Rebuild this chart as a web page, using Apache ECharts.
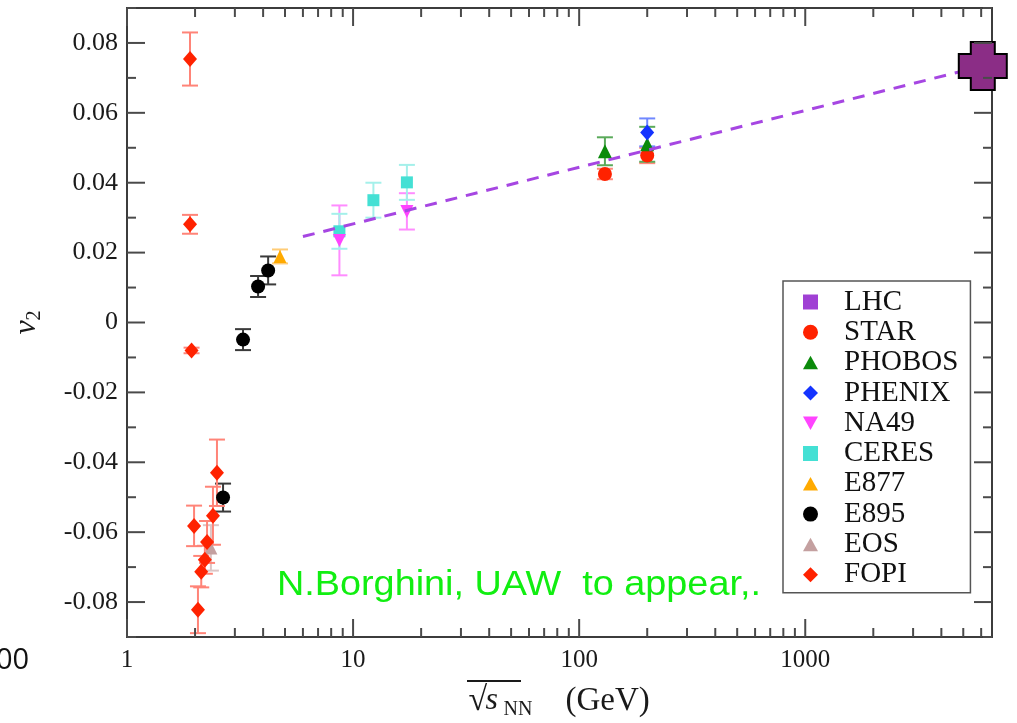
<!DOCTYPE html>
<html>
<head>
<meta charset="utf-8">
<script src="https://cdn.jsdelivr.net/npm/echarts@6/dist/echarts.min.js"></script>
<style>
  html, body { margin: 0; padding: 0; background: #ffffff; }
  #chart { width: 1017px; height: 723px; }
</style>
</head>
<body>
<div id="chart"></div>
<script>
// Elliptic flow v2 versus collision energy sqrt(s_NN)

// ---- data: x = sqrt(s_NN) [GeV], y = v2, err = error bar half-height ----
const lhcX = [6100];
const lhcY = [0.0734];

const starX = [130, 200];
const starY = [0.0425, 0.0478];
const starErr = [0.0015, 0.0022];

const phobosX = [130, 200];
const phobosY = [0.0490, 0.0510];
const phobosErr = [0.0040, 0.0050];

const phenixX = [200];
const phenixY = [0.0544];
const phenixErr = [0.0040];

const na49X = [8.7, 17.3];
const na49Y = [0.0235, 0.0318];
const na49Err = [0.0100, 0.0052];

const ceresX = [8.7, 12.3, 17.3];
const ceresY = [0.0261, 0.0350, 0.0401];
const ceresErr = [0.0050, 0.0050, 0.0050];

const e877X = [4.75];
const e877Y = [0.0189];
const e877Err = [0.0020];

const e895X = [2.66, 3.26, 3.80, 4.21];
const e895Y = [-0.0501, -0.0049, 0.0103, 0.0149];
const e895Err = [0.0040, 0.0030, 0.0030, 0.0040];

const eosX = [2.35];
const eosY = [-0.0645];
const eosErr = [0.0065];

const fopiX = [1.90, 1.90, 1.93, 2.50, 1.98, 2.40, 2.26, 2.21, 2.13, 2.06];
const fopiY = [0.0754, 0.0281, -0.0080, -0.0430, -0.0582, -0.0553, -0.0628, -0.0679, -0.0713, -0.0822];
const fopiErr = [0.0076, 0.0027, 0.0008, 0.0095, 0.0058, 0.0083, 0.0060, 0.0040, 0.0045, 0.0067];

// dashed trend line to the LHC point
const trendX = [6, 6100];
const trendY = [0.0246, 0.0734];

// ---- tick marks ----
const xMajorTicks = [1, 10, 100, 1000];
const xMinorTicks = [2, 3, 4, 5, 6, 7, 8, 9,
                     20, 30, 40, 50, 60, 70, 80, 90,
                     200, 300, 400, 500, 600, 700, 800, 900,
                     2000, 3000, 4000, 5000, 6000];
const yMajorTicks = [-0.08, -0.06, -0.04, -0.02, 0, 0.02, 0.04, 0.06, 0.08];
const yMinorTicks = [-0.09, -0.07, -0.05, -0.03, -0.01, 0.01, 0.03, 0.05, 0.07, 0.09];

// ---- styling ----
const SERIF = 'Liberation Serif, Times New Roman, serif';
const TICK_COLOR = '#4a4a4a';
const MAJOR_LEN = 18;
const MINOR_LEN = 9;

const ICON_SQUARE = 'path://M0,0 L10,0 L10,10 L0,10 Z';
const ICON_TRI = 'path://M5,0 L10,9 L0,9 Z';
const ICON_TRI_DOWN = 'path://M0,0 L10,0 L5,9 Z';
const ICON_DIAMOND = 'path://M5,0 L10,5 L5,10 L0,5 Z';
const CROSS = 'path://M1,0 L3,0 L3,1 L4,1 L4,3 L3,3 L3,4 L1,4 L1,3 L0,3 L0,1 L1,1 Z';

function zip(xs, ys, es) {
  return xs.map((x, i) => es ? [x, ys[i], es[i]] : [x, ys[i]]);
}

function errorBars(name, xs, ys, es, color) {
  return {
    type: 'custom',
    name: name + ' error',
    data: zip(xs, ys, es),
    encode: { x: 0, y: 1 },
    z: 1,
    silent: true,
    renderItem: function (params, api) {
      const x = api.value(0), y = api.value(1), e = api.value(2);
      const top = api.coord([x, y + e]);
      const bot = api.coord([x, y - e]);
      const hw = 8;
      const st = { stroke: color, lineWidth: 2 };
      return {
        type: 'group',
        children: [
          { type: 'line', shape: { x1: top[0], y1: top[1], x2: bot[0], y2: bot[1] }, style: st },
          { type: 'line', shape: { x1: top[0] - hw, y1: top[1], x2: top[0] + hw, y2: top[1] }, style: st },
          { type: 'line', shape: { x1: bot[0] - hw, y1: bot[1], x2: bot[0] + hw, y2: bot[1] }, style: st }
        ]
      };
    }
  };
}

function points(name, xs, ys, symbol, size, color, extra) {
  return Object.assign({
    type: 'scatter',
    name: name,
    data: zip(xs, ys),
    symbol: symbol,
    symbolSize: size,
    itemStyle: { color: color, opacity: 1 },
    z: 2
  }, extra || {});
}

function isMajorY(v) {
  return yMajorTicks.some(t => Math.abs(t - v) < 1e-6);
}

// inward tick marks on all four sides of the frame
const xTickSeries = {
  type: 'custom',
  name: 'x ticks',
  silent: true,
  z: 5,
  data: xMajorTicks.concat(xMinorTicks).map(v => [v, 0]),
  encode: { x: 0, y: 1 },
  renderItem: function (params, api) {
    const v = api.value(0);
    const cs = params.coordSys;
    const px = api.coord([v, 0])[0];
    const len = xMajorTicks.indexOf(v) >= 0 ? MAJOR_LEN : MINOR_LEN;
    const st = { stroke: TICK_COLOR, lineWidth: 2 };
    const yb = cs.y + cs.height, yt = cs.y;
    return {
      type: 'group',
      children: [
        { type: 'line', shape: { x1: px, y1: yb, x2: px, y2: yb - len }, style: st },
        { type: 'line', shape: { x1: px, y1: yt, x2: px, y2: yt + len }, style: st }
      ]
    };
  }
};

const yTickSeries = {
  type: 'custom',
  name: 'y ticks',
  silent: true,
  z: 5,
  data: yMajorTicks.concat(yMinorTicks).map(v => [1, v]),
  encode: { x: 0, y: 1 },
  renderItem: function (params, api) {
    const v = api.value(1);
    const cs = params.coordSys;
    const py = api.coord([1, v])[1];
    const len = isMajorY(v) ? MAJOR_LEN : MINOR_LEN;
    const st = { stroke: TICK_COLOR, lineWidth: 2 };
    const xl = cs.x, xr = cs.x + cs.width;
    return {
      type: 'group',
      children: [
        { type: 'line', shape: { x1: xl, y1: py, x2: xl + len, y2: py }, style: st },
        { type: 'line', shape: { x1: xr, y1: py, x2: xr - len, y2: py }, style: st }
      ]
    };
  }
};

const chart = echarts.init(document.getElementById('chart'), null, { renderer: 'canvas' });

chart.setOption({
  animation: false,
  backgroundColor: '#ffffff',
  grid: {
    left: 127, right: 25, top: 8, bottom: 86,
    outerBoundsMode: 'none',
    containLabel: false,
    show: true, borderColor: '#3c3c3c', borderWidth: 2, backgroundColor: 'transparent'
  },
  xAxis: {
    type: 'log',
    logBase: 10,
    min: 1,
    max: 6700,
    axisLine: { show: false },
    axisTick: { show: false },
    splitLine: { show: false },
    axisLabel: {
      margin: 11,
      fontFamily: SERIF,
      fontSize: 25,
      color: '#1a1a1a',
      showMaxLabel: false,
      formatter: function (v) {
        const r = Math.round(v);
        return xMajorTicks.indexOf(r) >= 0 && Math.abs(v - r) < 1e-6 * r ? String(r) : '';
      }
    },
    name: '{r|\u221A}{s|s}{n|NN}{g|(GeV)}',
    nameLocation: 'middle',
    nameGap: 45,
    nameTextStyle: {
      rich: {
        r: { fontFamily: SERIF, fontSize: 34, color: '#1a1a1a', width: 17, align: 'left' },
        s: { fontFamily: SERIF, fontSize: 32, fontStyle: 'italic', color: '#1a1a1a', width: 18, align: 'left' },
        n: { fontFamily: SERIF, fontSize: 20, color: '#1a1a1a', padding: [18, 0, 0, 0], width: 62, align: 'left' },
        g: { fontFamily: SERIF, fontSize: 33, color: '#1a1a1a', width: 85, align: 'left' }
      }
    }
  },
  yAxis: {
    type: 'value',
    min: -0.09,
    max: 0.09,
    interval: 0.01,
    axisLine: { show: false },
    axisTick: { show: false },
    splitLine: { show: false },
    axisLabel: {
      margin: 9,
      fontFamily: SERIF,
      fontSize: 26,
      color: '#1a1a1a',
      formatter: function (v) {
        if (!isMajorY(v)) return '';
        const c = Math.round(v * 100);
        return c === 0 ? '0' : (c / 100).toFixed(2);
      }
    },
    name: '{v|v}{s|2}',
    nameLocation: 'middle',
    nameRotate: 90,
    nameGap: 82,
    nameTextStyle: {
      rich: {
        v: { fontFamily: SERIF, fontSize: 32, fontStyle: 'italic', color: '#1a1a1a' },
        s: { fontFamily: SERIF, fontSize: 20, color: '#1a1a1a', padding: [16, 0, 0, 0] }
      }
    }
  },
  legend: {
    orient: 'vertical',
    left: 783,
    top: 281,
    padding: [6, 12, 3, 20],
    itemGap: 0.3,
    itemWidth: 15,
    itemHeight: 15,
    borderColor: '#555555',
    borderWidth: 1.5,
    backgroundColor: '#ffffff',
    selectedMode: false,
    textStyle: {
      fontFamily: SERIF,
      fontSize: 29,
      color: '#111111',
      lineHeight: 30,
      padding: [0, 0, 0, 21]
    },
    data: [
      { name: 'LHC', icon: ICON_SQUARE, itemStyle: { color: '#a040d4', borderWidth: 0 } },
      { name: 'STAR', icon: 'circle' },
      { name: 'PHOBOS', icon: ICON_TRI },
      { name: 'PHENIX', icon: ICON_DIAMOND },
      { name: 'NA49', icon: ICON_TRI_DOWN },
      { name: 'CERES', icon: ICON_SQUARE },
      { name: 'E877', icon: ICON_TRI },
      { name: 'E895', icon: 'circle' },
      { name: 'EOS', icon: ICON_TRI },
      { name: 'FOPI', icon: ICON_DIAMOND }
    ]
  },
  graphic: [
    {
      type: 'text',
      left: 277,
      top: 568,
      scaleX: 1.08,
      style: {
        text: 'N.Borghini, UAW  to appear,.',
        fontFamily: 'Liberation Sans, Arial, sans-serif',
        fontSize: 35,
        fill: '#11ee11'
      },
      z: 10
    },
    {
      type: 'text',
      left: -4,
      top: 646,
      style: {
        text: '00',
        fontFamily: 'Open Sans, Noto Sans, sans-serif',
        fontSize: 29,
        fill: '#111111'
      }
    },
    {
      // overline of the square-root sign
      type: 'line',
      shape: { x1: 467, y1: 681, x2: 521, y2: 681 },
      style: { stroke: '#1a1a1a', lineWidth: 2 }
    }
  ],
  series: [
    errorBars('STAR', starX, starY, starErr, '#ff8a7e'),
    errorBars('PHOBOS', phobosX, phobosY, phobosErr, '#5aaa5a'),
    errorBars('PHENIX', phenixX, phenixY, phenixErr, '#7088ff'),
    errorBars('NA49', na49X, na49Y, na49Err, '#ff8cff'),
    errorBars('CERES', ceresX, ceresY, ceresErr, '#a4f0ea'),
    errorBars('E877', e877X, e877Y, e877Err, '#ffcc77'),
    errorBars('E895', e895X, e895Y, e895Err, '#3a3a3a'),
    errorBars('EOS', eosX, eosY, eosErr, '#dcc6c6'),
    errorBars('FOPI', fopiX, fopiY, fopiErr, '#ff8478'),

    points('EOS', eosX, eosY, 'triangle', 13, '#c4a0a0'),
    points('FOPI', fopiX, fopiY, 'diamond', [14, 16], '#ff2200'),
    points('E895', e895X, e895Y, 'circle', 14, '#000000'),
    points('E877', e877X, e877Y, 'triangle', 13, '#ffaa00'),
    points('CERES', ceresX, ceresY, 'rect', 12, '#44e0d4'),
    points('NA49', na49X, na49Y, 'triangle', 13, '#ff44ff', { symbolRotate: 180 }),
    points('STAR', starX, starY, 'circle', 14, '#ff2200'),
    points('PHOBOS', phobosX, phobosY, 'triangle', 14, '#0b8a0b'),
    points('PHENIX', phenixX, phenixY, 'diamond', [14, 16], '#1433ff'),

    {
      type: 'line',
      name: 'trend',
      data: zip(trendX, trendY),
      symbol: 'none',
      z: 3,
      silent: true,
      lineStyle: { color: '#a646e2', width: 3, type: [12, 9] }
    },
    points('LHC', lhcX, lhcY, CROSS, 48, '#8b2d86', {
      z: 4,
      itemStyle: { color: '#8b2d86', borderColor: '#000000', borderWidth: 2, opacity: 1 }
    }),

    xTickSeries,
    yTickSeries
  ]
});
</script>
</body>
</html>
